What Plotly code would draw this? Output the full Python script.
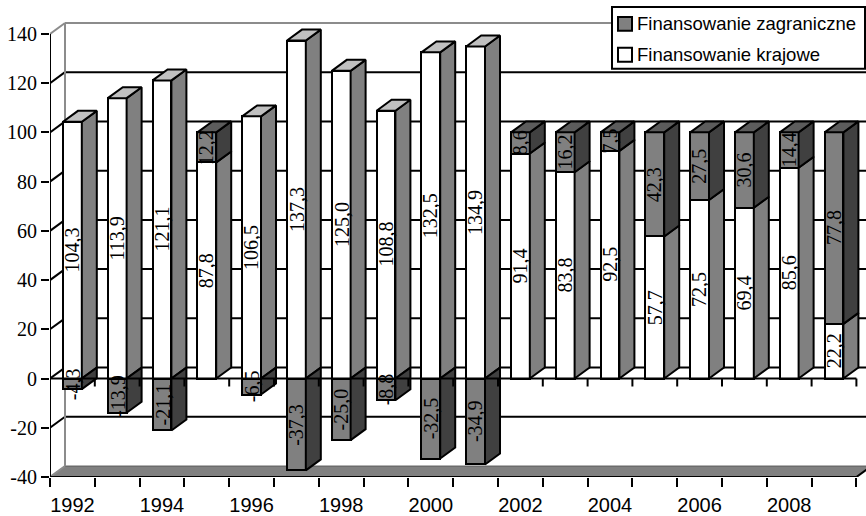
import plotly.graph_objects as go

# ---- data ----
years = list(range(1992, 2010))
krajowe = [104.3, 113.9, 121.1, 87.8, 106.5, 137.3, 125.0, 108.8, 132.5,
           134.9, 91.4, 83.8, 92.5, 57.7, 72.5, 69.4, 85.6, 22.2]
zagraniczne = [-4.3, -13.9, -21.1, 12.2, -6.5, -37.3, -25.0, -8.8, -32.5,
               -34.9, 8.6, 16.2, 7.5, 42.3, 27.5, 30.6, 14.4, 77.8]
y_ticks = [-40, -20, 0, 20, 40, 60, 80, 100, 120, 140]
label_years = years[::2]

name_zagr = "Finansowanie zagraniczne"
name_kraj = "Finansowanie krajowe"

# ---- geometry of the oblique 3D look ----
W, H = 866, 516
ML, MR, MT, MB = 50, 0, 0, 37
PX_CAT = 44.8          # pixels per category
PX_UNIT = 2.472        # pixels per value unit
BAR_W = 0.42           # front face width (category units)
DX = 15 / PX_CAT       # depth offset in x
DY = 11 / PX_UNIT      # depth offset in y

n = len(years)
xs = list(range(n))
ymin, ymax = y_ticks[0], y_ticks[-1]
x_range = [-0.5, -0.5 + (W - ML - MR) / PX_CAT]
y_range = [ymin, ymin + (H - MT - MB) / PX_UNIT]
x_left, x_right = -0.5, n - 0.5

WHITE, WHITE_SIDE, WHITE_TOP = "#ffffff", "#808080", "#c0c0c0"
GRAY, GRAY_SIDE, GRAY_TOP = "#808080", "#404040", "#5c5c5c"
SERIF = "'Liberation Serif', 'Times New Roman', Times, serif"
SANS = "'Liberation Sans', Arial, sans-serif"


def fmt(v):
    return f"{v:.1f}".replace(".", ",")


fig = go.Figure()

# ---- front faces as bars ----
fig.add_trace(go.Bar(
    x=xs, y=krajowe, base=[0] * n, width=BAR_W, name=name_kraj,
    marker=dict(color=WHITE, line=dict(color="black", width=2)),
    showlegend=False, hoverinfo="skip"))
zagr_base = [k if z > 0 else 0 for k, z in zip(krajowe, zagraniczne)]
fig.add_trace(go.Bar(
    x=xs, y=zagraniczne, base=zagr_base, width=BAR_W, name=name_zagr,
    marker=dict(color=GRAY, line=dict(color="black", width=2)),
    showlegend=False, hoverinfo="skip"))


# ---- side and top faces ----
def side(i, y0, y1):
    xr = i + BAR_W / 2
    return [xr, xr + DX, xr + DX, xr, xr, None], [y0, y0 + DY, y1 + DY, y1, y0, None]


def top(i, y1):
    xl, xr = i - BAR_W / 2, i + BAR_W / 2
    return [xl, xr, xr + DX, xl + DX, xl, None], [y1, y1, y1 + DY, y1 + DY, y1, None]


faces = {WHITE_SIDE: ([], []), WHITE_TOP: ([], []), GRAY_SIDE: ([], []), GRAY_TOP: ([], [])}


def add(color, pts):
    faces[color][0].extend(pts[0])
    faces[color][1].extend(pts[1])


for i, (k, z) in enumerate(zip(krajowe, zagraniczne)):
    add(WHITE_SIDE, side(i, 0, k))
    if z < 0:
        add(GRAY_SIDE, side(i, z, 0))
        add(WHITE_TOP, top(i, k))
    else:
        add(GRAY_SIDE, side(i, k, k + z))
        add(GRAY_TOP, top(i, k + z))

for color, (fx, fy) in faces.items():
    fig.add_trace(go.Scatter(
        x=fx, y=fy, mode="lines", fill="toself", fillcolor=color,
        line=dict(color="black", width=2), showlegend=False, hoverinfo="skip"))

# ---- walls, floor, grid ----
shapes = []
bx0, bx1 = x_left + DX, x_right + DX
for v in y_ticks[1:-1]:
    shapes.append(dict(type="line", layer="below", xref="x", yref="y",
                       x0=bx0, x1=bx1 + 1, y0=v + DY, y1=v + DY,
                       line=dict(color="black", width=2)))
    shapes.append(dict(type="line", layer="below", xref="x", yref="y",
                       x0=x_left, x1=bx0, y0=v, y1=v + DY,
                       line=dict(color="black", width=2)))
# floor
shapes.append(dict(type="path", layer="below", xref="x", yref="y",
                   path=f"M {x_left},{ymin} L {x_right},{ymin} L {x_right + DX},{ymin + DY} "
                        f"L {x_left + DX},{ymin + DY} Z",
                   fillcolor="#808080", line=dict(color="#5a5a5a", width=1)))
# wall edges
wall = dict(color="#8c8c8c", width=2)
shapes += [
    dict(type="line", layer="below", xref="x", yref="y", x0=bx0, x1=bx0,
         y0=ymin + DY, y1=ymax + DY, line=wall),
    dict(type="line", layer="below", xref="x", yref="y", x0=bx0, x1=bx1 + 1,
         y0=ymax + DY, y1=ymax + DY, line=wall),
    dict(type="line", layer="below", xref="x", yref="y", x0=x_left, x1=bx0,
         y0=ymax, y1=ymax + DY, line=wall),
    dict(type="line", layer="below", xref="x", yref="y", x0=x_left, x1=bx0,
         y0=ymin, y1=ymin + DY, line=wall),
    # floor front edge and right edge
    dict(type="line", layer="below", xref="x", yref="y", x0=x_left, x1=x_right,
         y0=ymin, y1=ymin, line=dict(color="black", width=2)),
    dict(type="line", layer="below", xref="x", yref="y", x0=x_right, x1=x_right + DX,
         y0=ymin, y1=ymin + DY, line=dict(color="black", width=2)),
    # front value axis
    dict(type="line", layer="below", xref="x", yref="y", x0=x_left, x1=x_left,
         y0=ymin, y1=ymax, line=dict(color="black", width=2)),
    # category axis at zero
    dict(type="line", layer="above", xref="x", yref="y", x0=x_left, x1=x_right,
         y0=0, y1=0, line=dict(color="black", width=2)),
]
tick_len = 8 / PX_UNIT
for b in range(n + 1):
    xb = b - 0.5
    shapes.append(dict(type="line", layer="above", xref="x", yref="y",
                       x0=xb, x1=xb, y0=0, y1=-tick_len,
                       line=dict(color="black", width=2)))

# ---- legend box ----
def px_x(p):
    return (p - ML) / (W - ML - MR)


def px_y(p):
    return (H - MB - p) / (H - MT - MB)


shapes.append(dict(type="rect", layer="above", xref="paper", yref="paper",
                   x0=px_x(612), x1=px_x(865), y0=px_y(69), y1=px_y(7),
                   fillcolor="white", line=dict(color="black", width=2)))
legend_items = [(name_zagr, GRAY, 24), (name_kraj, WHITE, 55)]
annotations = []
for name, color, cy in legend_items:
    shapes.append(dict(type="rect", layer="above", xref="paper", yref="paper",
                       x0=px_x(618), x1=px_x(632), y0=px_y(cy + 7), y1=px_y(cy - 7),
                       fillcolor=color, line=dict(color="black", width=2)))
    annotations.append(dict(xref="paper", yref="paper", x=px_x(635), y=px_y(cy),
                            xanchor="left", yanchor="middle", showarrow=False,
                            text=name, font=dict(family=SANS, size=18.5, color="black")))

# ---- value labels ----
for i, (k, z) in enumerate(zip(krajowe, zagraniczne)):
    annotations.append(dict(x=i, y=k / 2, text=fmt(k), textangle=-90, showarrow=False,
                            xanchor="center", yanchor="middle",
                            font=dict(family=SERIF, size=20, color="black")))
    zmid = z / 2 if z < 0 else k + z / 2
    annotations.append(dict(x=i, y=zmid, text=fmt(z), textangle=-90, showarrow=False,
                            xanchor="center", yanchor="middle",
                            font=dict(family=SERIF, size=20, color="black")))

fig.update_layout(
    width=W, height=H, margin=dict(l=ML, r=MR, t=MT, b=MB, pad=0),
    paper_bgcolor="white", plot_bgcolor="white",
    barmode="overlay", bargap=0, showlegend=False,
    shapes=shapes, annotations=annotations,
    xaxis=dict(range=x_range, showgrid=False, zeroline=False, showline=False,
               tickmode="array", tickvals=[years.index(y) for y in label_years],
               ticktext=[str(y) for y in label_years],
               ticks="outside", ticklen=10, tickcolor="rgba(0,0,0,0)",
               tickfont=dict(family=SANS, size=20, color="black"),
               minor=dict(tickmode="array", tickvals=[b - 0.5 for b in range(n + 1)],
                          ticks="outside", ticklen=9, tickwidth=2, tickcolor="black",
                          showgrid=False)),
    yaxis=dict(range=y_range, showgrid=False, zeroline=False, showline=False,
               tickmode="array", tickvals=y_ticks, ticktext=[str(v) for v in y_ticks],
               ticks="outside", ticklen=8, tickwidth=2, tickcolor="black",
               tickfont=dict(family=SERIF, size=20, color="black")),
)

fig.write_html("out.html")
